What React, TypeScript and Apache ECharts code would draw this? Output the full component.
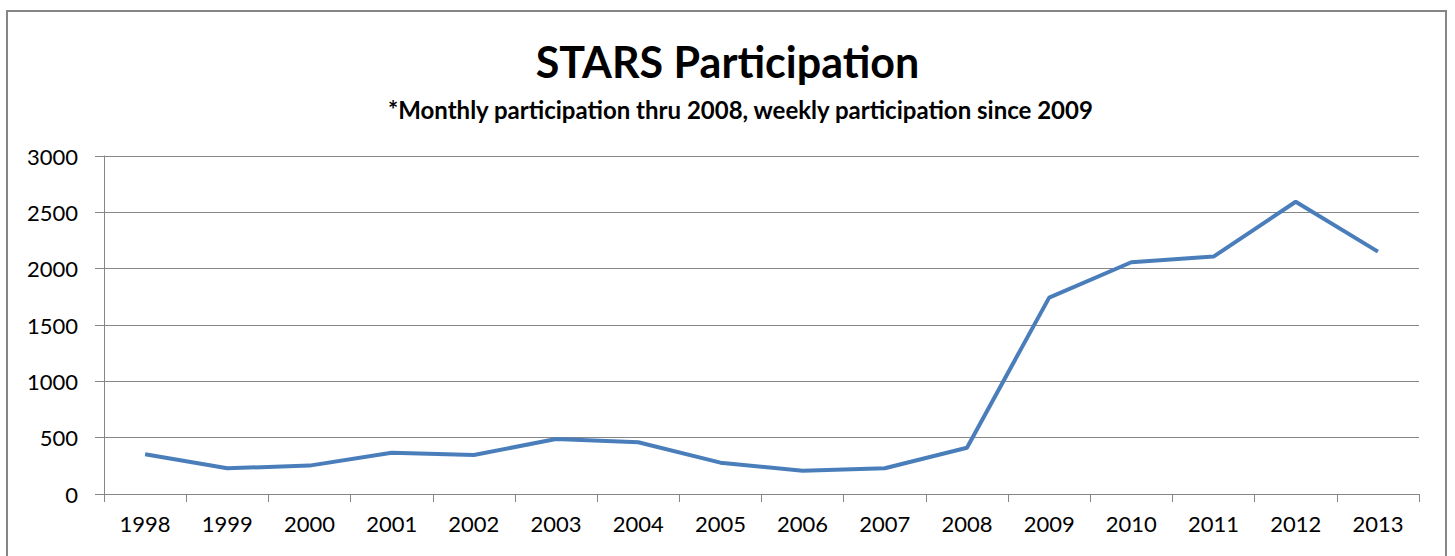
import React, { useEffect, useRef } from "react";
import * as echarts from "echarts";

const years = ["1998","1999","2000","2001","2002","2003","2004","2005","2006","2007","2008","2009","2010","2011","2012","2013"];
const participation = [352, 228, 252, 367, 346, 488, 459, 278, 207, 228, 411, 1743, 2057, 2107, 2594, 2151];
const titleText = "STARS Participation";
const subtitleText = "*Monthly participation thru 2008, weekly participation since 2009";

export default function App() {
  const ref = useRef<HTMLDivElement>(null);
  useEffect(() => {
    document.body.style.margin = "0";
    const chart = echarts.init(ref.current!, null, { renderer: "svg" });
    chart.setOption({
      animation: false,
      backgroundColor: "#ffffff",
      title: [
        {
          text: titleText,
          left: "center",
          top: 35,
          textStyle: { fontFamily: "Lato", fontWeight: "bold", fontSize: 43, color: "#000" },
        },
        {
          text: subtitleText,
          left: 383,
          top: 92,
          textStyle: { fontFamily: "Lato", fontWeight: "bold", fontSize: 24, color: "#000" },
        },
      ],
      graphic: [
        {
          type: "rect",
          shape: { x: 7, y: 11, width: 1439, height: 580 },
          style: { fill: "none", stroke: "#868686", lineWidth: 2 },
          silent: true,
        },
      ],
      grid: { left: 104, right: 36, top: 156, bottom: 62, containLabel: false },
      xAxis: {
        type: "category",
        data: years,
        boundaryGap: true,
        axisLine: { show: true, lineStyle: { color: "#868686", width: 1 } },
        axisTick: { show: true, alignWithLabel: false, length: 8, lineStyle: { color: "#868686" } },
        axisLabel: { fontFamily: "Lato", fontSize: 22, color: "#000", margin: 18 },
        splitLine: { show: false },
      },
      yAxis: {
        type: "value",
        min: 0,
        max: 3000,
        interval: 500,
        axisLine: { show: true, lineStyle: { color: "#868686", width: 1 } },
        axisTick: { show: true, length: 9, lineStyle: { color: "#868686" } },
        axisLabel: { fontFamily: "Lato", fontSize: 22, color: "#000", margin: 26, formatter: (v: number) => String(v) },
        splitLine: { show: true, lineStyle: { color: "#868686", width: 1 } },
      },
      series: [
        {
          type: "line",
          data: participation,
          symbol: "none",
          lineStyle: { color: "#4A7EBB", width: 4 },
          itemStyle: { color: "#4A7EBB" },
        },
      ],
    });
    return () => chart.dispose();
  }, []);
  return <div ref={ref} style={{ width: 1455, height: 556 }} />;
}
